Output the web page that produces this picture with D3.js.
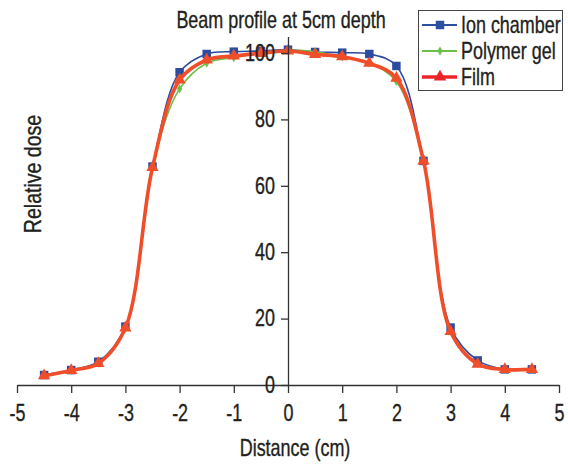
<!DOCTYPE html>
<html>
<head>
<meta charset="utf-8">
<script src="https://cdn.jsdelivr.net/npm/d3@7"></script>
<style>
    body { margin: 0; background: #fff; }
    svg text { font-family: "Liberation Sans", Arial, sans-serif; fill: #231f20; stroke: #231f20; stroke-width: 0.35px; }
</style>
</head>
<body>
<div id="chart"></div>
<script>
// distance from beam axis (cm)
var distance = [-4.5, -4, -3.5, -3, -2.5, -2, -1.5, -1, -0.5, 0, 0.5, 1, 1.5, 2, 2.5, 3, 3.5, 4, 4.5];
// relative dose per detector
var ionChamber = [3.0, 4.5, 7.0, 17.6, 65.8, 94.2, 99.7, 100.4, 100.6, 101.0, 100.3, 100.1, 99.7, 96.1, 67.5, 17.3, 7.4, 4.7, 4.7];
var polymerGel = [3.0, 4.4, 6.6, 17.0, 66.0, 89.2, 96.9, 98.6, 100.0, 100.8, 100.4, 98.8, 97.0, 91.4, 67.5, 16.3, 6.4, 4.7, 4.7];
var film = [2.8, 4.4, 6.5, 17.2, 65.5, 91.9, 97.9, 99.1, 99.9, 100.6, 99.6, 98.9, 96.9, 92.4, 67.5, 16.1, 6.3, 4.7, 4.7];

var seriesNames = ["Ion chamber", "Polymer gel", "Film"];
var xTicks = [-5, -4, -3, -2, -1, 0, 1, 2, 3, 4, 5];
var yTicks = [0, 20, 40, 60, 80, 100];

// no condensed font installed, so squeeze Liberation Sans horizontally
var SQUEEZE = 0.78;
var FONT = "23px";

function ProfileChart(selector) {
    var self = this;
    self.selector = selector;
    self.width = 568;
    self.height = 467;
};

ProfileChart.prototype.init = function () {
    var self = this;

    self.svg = d3.select(self.selector).append("svg")
        .attr("width", self.width)
        .attr("height", self.height);

    // scales
    self.xScale = d3.scaleLinear().domain([-5, 5]).range([17, 559]);
    self.yScale = d3.scaleLinear().domain([0, 105]).range([385, 36.4]);

    self.series = [
        {name: seriesNames[0], values: ionChamber, color: "#2d4b9f", legendColor: "#2d4fa0", width: 1.6,
            symbol: d3.symbolSquare, size: 72},
        {name: seriesNames[1], values: polymerGel, color: "#6dbf4b", legendColor: "#6dbf4b", width: 1.6,
            symbol: d3.symbolDiamond, size: 24},
        {name: seriesNames[2], values: film, color: "#f04e2a", legendColor: "#ec2328", width: 3.6,
            symbol: d3.symbolTriangle, size: 66}
    ];

    self.update();
};

// places a squeezed text at x,y
function addText(parent, x, y, str, anchor) {
    return parent.append("text")
        .attr("transform", "translate(" + x + "," + y + ") scale(" + SQUEEZE + ",1)")
        .attr("text-anchor", anchor || "start")
        .style("font-size", FONT)
        .text(str);
}

ProfileChart.prototype.update = function () {
    var self = this;
    var fmt = function (d) { return String(d); };

    // lines
    var line = d3.line()
        .x(function (d, i) { return self.xScale(distance[i]); })
        .y(function (d) { return self.yScale(d); })
        .curve(d3.curveCatmullRom);

    var plot = self.svg.append("g").attr("id", "profiles");

    self.series.forEach(function (s) {
        var g = plot.append("g");
        g.append("path")
            .datum(s.values)
            .attr("fill", "none")
            .attr("stroke", s.color)
            .attr("stroke-width", s.width)
            .attr("d", line);
        g.selectAll("path.marker")
            .data(s.values)
            .enter()
            .append("path")
            .attr("class", "marker")
            .attr("d", d3.symbol().type(s.symbol).size(s.size))
            .attr("fill", s.color)
            .attr("transform", function (d, i) {
                return "translate(" + self.xScale(distance[i]) + "," + self.yScale(d) + ")";
            });
    });

    // x axis at dose 0
    var xAxis = self.svg.append("g")
        .attr("transform", "translate(0," + self.yScale(0) + ")")
        .call(d3.axisBottom(self.xScale).tickValues(xTicks).tickFormat(fmt).tickSize(8).tickPadding(12).tickSizeOuter(0));
    xAxis.select(".domain").attr("stroke", "#333").attr("stroke-width", 1.3);
    xAxis.selectAll(".tick line").attr("stroke", "#333").attr("stroke-width", 1.3);
    xAxis.selectAll("text")
        .attr("fill", null)
        .attr("transform", "scale(" + SQUEEZE + ",1)")
        .style("font-size", FONT);

    // y axis at distance 0
    var yAxis = self.svg.append("g")
        .attr("transform", "translate(" + self.xScale(0) + ",0)")
        .call(d3.axisLeft(self.yScale).tickValues(yTicks).tickFormat(fmt).tickSize(7).tickPadding(6).tickSizeOuter(0));
    yAxis.select(".domain").attr("stroke", "#333").attr("stroke-width", 1.3);
    yAxis.selectAll(".tick line").attr("stroke", "#333").attr("stroke-width", 1.3);
    yAxis.selectAll("text")
        .attr("fill", null)
        .attr("x", -13 / SQUEEZE)
        .attr("transform", "scale(" + SQUEEZE + ",1)")
        .style("font-size", FONT);

    // titles
    addText(self.svg, 281, 28, "Beam profile at 5cm depth", "middle");
    addText(self.svg, 295, 456, "Distance (cm)", "middle");
    self.svg.append("text")
        .attr("transform", "translate(41,174) rotate(-90) scale(0.85,1)")
        .attr("text-anchor", "middle")
        .style("font-size", FONT)
        .text("Relative dose");

    // legend
    var legend = self.svg.append("g").attr("id", "legend");
    legend.append("rect")
        .attr("x", 418.5).attr("y", 10.5)
        .attr("width", 144).attr("height", 80)
        .attr("fill", "#fff")
        .attr("stroke", "#444")
        .attr("stroke-width", 1);

    var rowY = [25, 51, 77];
    self.series.forEach(function (s, i) {
        var row = legend.append("g").attr("transform", "translate(0," + rowY[i] + ")");
        row.append("line")
            .attr("x1", 422).attr("x2", 457)
            .attr("stroke", s.legendColor)
            .attr("stroke-width", i == 2 ? 3.6 : 2.2);
        row.append("path")
            .attr("d", d3.symbol().type(s.symbol).size(s.size))
            .attr("transform", "translate(440,0)")
            .attr("fill", s.legendColor);
        addText(row, 461, 8, s.name);
    });
};

var chart = new ProfileChart("#chart");
chart.init();
</script>
</body>
</html>
